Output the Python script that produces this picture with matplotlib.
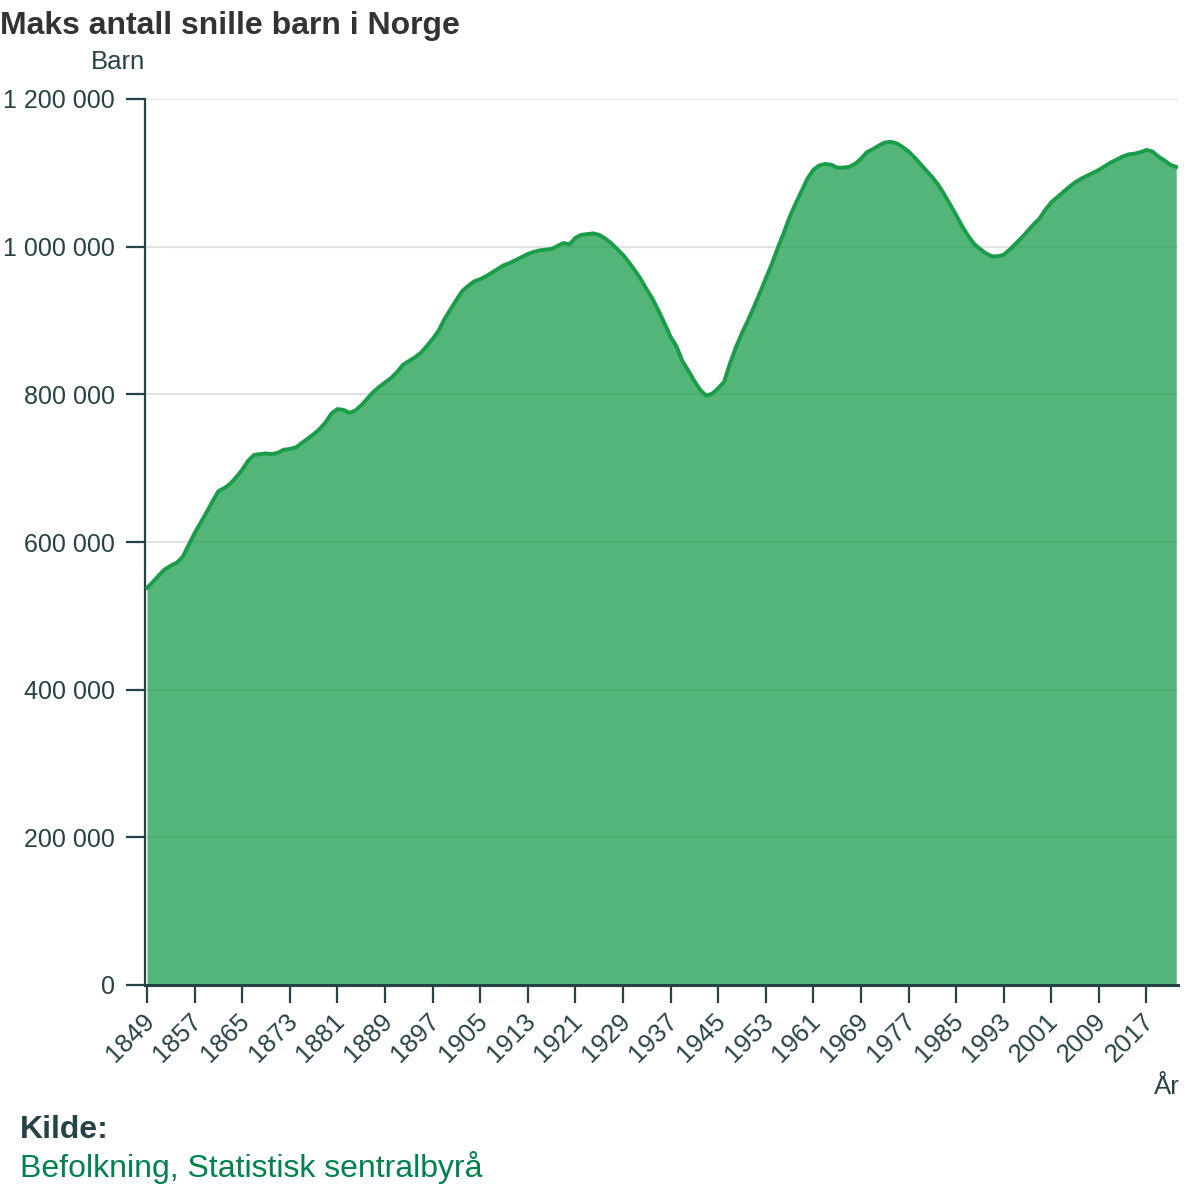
"""
Area chart: Maks antall snille barn i Norge, 1849-2022 (kilde: SSB befolkning).
"""
import matplotlib
matplotlib.use("Agg")
import matplotlib.pyplot as plt
import matplotlib.transforms as mtransforms
from matplotlib.ticker import FuncFormatter

plt.rcParams["font.family"] = ["Liberation Sans", "DejaVu Sans"]

# values, in thousands, one per year 1849-2022
years = list(range(1849, 2023))
barn_k = [538,
          546, 555, 563, 568, 572, 580, 596, 612, 626, 640,
          655, 669, 673, 679, 688, 698, 710, 718, 719, 720,
          719, 721, 725, 726, 728, 734, 740, 746, 753, 762,
          774, 780, 779, 775, 778, 785, 794, 803, 810, 816,
          822, 830, 840, 845, 850, 856, 865, 875, 886, 902,
          915, 928, 940, 947, 953, 956, 960, 965, 970, 975,
          978, 982, 986, 990, 993, 995, 996, 997, 1001, 1005,
          1003, 1012, 1016, 1017, 1018, 1016, 1011, 1005, 997, 989,
          979, 968, 956, 942, 929, 913, 896, 878, 865, 845,
          832, 818, 806, 798, 801, 808, 817, 842, 864, 883,
          900, 918, 937, 957, 976, 998, 1018, 1040, 1058, 1075,
          1092, 1104, 1110, 1112, 1111, 1107, 1107, 1108, 1112, 1119,
          1128, 1132, 1137, 1141, 1142, 1140, 1135, 1129, 1121, 1112,
          1103, 1094, 1084, 1071, 1057, 1043, 1028, 1015, 1004, 997,
          991, 987, 987, 989, 996, 1004, 1012, 1021, 1030, 1038,
          1050, 1060, 1067, 1074, 1081, 1087, 1092, 1096, 1100, 1104,
          1109, 1114, 1118, 1122, 1125, 1126, 1128, 1131, 1129, 1122,
          1117, 1111, 1108]
barn = [v * 1000 for v in barn_k]

x_ticks = list(range(1849, 2018, 8))
y_ticks = list(range(0, 1200001, 200000))

GREEN = "#1a9d49"
DARK = "#274247"

fig = plt.figure(figsize=(12, 12), dpi=100)
ax = fig.add_axes([145 / 1200, 1 - 985 / 1200, (1178 - 145) / 1200, (985 - 99) / 1200])

ax.fill_between(years, barn, 0, color=GREEN, alpha=0.75, linewidth=0, zorder=2)
ax.plot(years, barn, color=GREEN, linewidth=2.8, solid_joinstyle="round", zorder=3)

ax.set_xlim(1848.66, 2022.3)
ax.set_ylim(0, 1200000)
ax.set_xticks(x_ticks)
ax.set_yticks(y_ticks)
ax.yaxis.set_major_formatter(FuncFormatter(lambda v, p: f"{int(v):,}".replace(",", " ")))

ax.grid(axis="y", color="#e2e2e2", linewidth=1.5, zorder=1)
ax.set_axisbelow(True)

for s in ["top", "right"]:
    ax.spines[s].set_visible(False)
ax.spines["left"].set_color(DARK)
ax.spines["left"].set_linewidth(1.6)
ax.spines["bottom"].set_color(DARK)
ax.spines["bottom"].set_linewidth(2.2)
ax.spines["bottom"].set_zorder(4)

ax.tick_params(axis="y", length=13.5, width=1.6, color=DARK, labelcolor=DARK,
               labelsize=18, pad=8)
ax.tick_params(axis="x", length=13, width=1.6, color=DARK, labelcolor=DARK,
               labelsize=18.5, pad=4)
shift = mtransforms.ScaledTranslation(-5 / 100, 0, fig.dpi_scale_trans)
for lbl in ax.get_xticklabels():
    lbl.set_rotation(45)
    lbl.set_ha("right")
    lbl.set_va("top")
    lbl.set_rotation_mode("anchor")
    lbl.set_transform(lbl.get_transform() + shift)

fig.text(0.0, 1 - 26 / 1200, "Maks antall snille barn i Norge", fontsize=23,
         fontweight="bold", color="#333333", va="center", ha="left")
fig.text(145 / 1200, 1 - 62 / 1200, "Barn", fontsize=18.5, color=DARK,
         va="center", ha="right")
fig.text(1180 / 1200, 1 - 1087 / 1200, "År", fontsize=18.5, color=DARK,
         va="center", ha="right")
fig.text(20 / 1200, 1 - 1130 / 1200, "Kilde:", fontsize=23, fontweight="bold",
         color=DARK, va="center", ha="left")
fig.text(20 / 1200, 1 - 1167 / 1200, "Befolkning, Statistisk sentralbyrå",
         fontsize=23, color="#00824d", va="center", ha="left")

fig.savefig("out.png", dpi=100)
